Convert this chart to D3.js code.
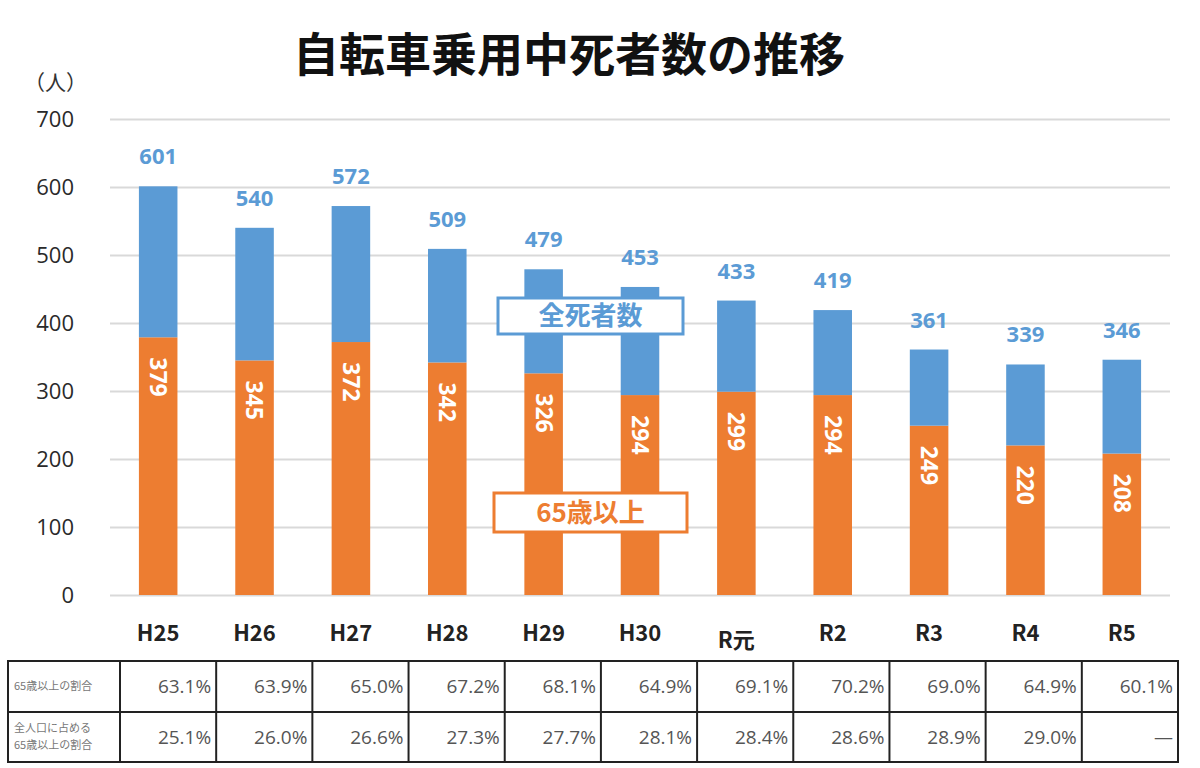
<!DOCTYPE html>
<html>
<head>
<meta charset="utf-8">
<script src="https://cdn.jsdelivr.net/npm/d3@7"></script>
<style>
  body { margin: 0; background: #fff; }
  svg { display: block; font-family: "Noto Sans CJK JP", "Open Sans", sans-serif; }
</style>
</head>
<body>
<div id="chart"></div>
<script>
// data
const years = ["H25", "H26", "H27", "H28", "H29", "H30", "R元", "R2", "R3", "R4", "R5"];
const totalDeaths = [601, 540, 572, 509, 479, 453, 433, 419, 361, 339, 346];
const elderlyDeaths = [379, 345, 372, 342, 326, 294, 299, 294, 249, 220, 208];
const elderlyShare = ["63.1%", "63.9%", "65.0%", "67.2%", "68.1%", "64.9%", "69.1%", "70.2%", "69.0%", "64.9%", "60.1%"];
const populationShare = ["25.1%", "26.0%", "26.6%", "27.3%", "27.7%", "28.1%", "28.4%", "28.6%", "28.9%", "29.0%", "—"];
const yTicks = [0, 100, 200, 300, 400, 500, 600, 700];

const BLUE = "#5b9bd5", ORANGE = "#ed7d31";
const W = 1200, H = 768;

const svg = d3.select("#chart").append("svg")
    .attr("width", W)
    .attr("height", H);

const x = d3.scaleBand().domain(years).range([110, 1170]).paddingInner(0.6).paddingOuter(0.3);
const y = d3.scaleLinear().domain([0, 700]).range([595, 119]);

// title
svg.append("text")
    .attr("x", 569).attr("y", 71)
    .attr("text-anchor", "middle")
    .attr("font-size", 46).attr("font-weight", 700)
    .attr("fill", "#111")
    .text("自転車乗用中死者数の推移");

svg.append("text")
    .attr("x", 24).attr("y", 90)
    .attr("font-size", 21).attr("fill", "#333")
    .text("（人）");

// grid + y axis
const yAxis = svg.append("g")
    .attr("transform", "translate(110,0)")
    .call(d3.axisLeft(y).tickValues(yTicks).tickSize(-1060).tickPadding(36));
yAxis.select(".domain").remove();
yAxis.selectAll(".tick line").attr("stroke", "#d9d9d9").attr("stroke-width", 2);
yAxis.selectAll(".tick text")
    .attr("font-size", 22).attr("fill", "#2a2a2a")
    .attr("font-family", "'Open Sans', sans-serif");

// stacked bars
const rows = years.map((yr, i) => ({ year: yr, elderly: elderlyDeaths[i], other: totalDeaths[i] - elderlyDeaths[i] }));
const stacked = d3.stack().keys(["elderly", "other"])(rows);
const color = d3.scaleOrdinal().domain(["elderly", "other"]).range([ORANGE, BLUE]);

svg.append("g").selectAll("g")
    .data(stacked)
    .join("g")
    .attr("fill", d => color(d.key))
    .selectAll("rect")
    .data(d => d)
    .join("rect")
    .attr("x", d => x(d.data.year))
    .attr("y", d => y(d[1]))
    .attr("width", x.bandwidth())
    .attr("height", d => y(d[0]) - y(d[1]));

// total labels
svg.append("g").selectAll("text")
    .data(years)
    .join("text")
    .attr("x", d => x(d) + x.bandwidth() / 2)
    .attr("y", (d, i) => y(totalDeaths[i]) - 22)
    .attr("text-anchor", "middle")
    .attr("font-size", 22).attr("font-weight", 700)
    .attr("font-family", "'Open Sans', sans-serif")
    .attr("fill", BLUE)
    .text((d, i) => totalDeaths[i]);

// elderly labels, rotated
svg.append("g").selectAll("text")
    .data(years)
    .join("text")
    .attr("transform", (d, i) => `translate(${x(d) + x.bandwidth() / 2},${y(elderlyDeaths[i]) + 20}) rotate(90)`)
    .attr("dy", "0.35em")
    .attr("font-size", 23).attr("font-weight", 700)
    .attr("font-family", "'Open Sans', sans-serif")
    .attr("fill", "#fff")
    .text((d, i) => elderlyDeaths[i]);

// x labels
svg.append("g").selectAll("text")
    .data(years)
    .join("text")
    .attr("x", d => x(d) + x.bandwidth() / 2)
    .attr("y", d => d === "R元" ? 648 : 641)
    .attr("text-anchor", "middle")
    .attr("font-size", 22).attr("font-weight", 600)
    .attr("fill", "#222")
    .text(d => d);

// legend boxes
const legends = [
    { label: "全死者数", color: BLUE, x0: 498, y0: 298, w: 185, h: 36 },
    { label: "65歳以上", color: ORANGE, x0: 494, y0: 493, w: 193, h: 39 }
];
const lg = svg.append("g").selectAll("g").data(legends).join("g");
lg.append("rect")
    .attr("x", d => d.x0).attr("y", d => d.y0)
    .attr("width", d => d.w).attr("height", d => d.h)
    .attr("fill", "#fff").attr("stroke", d => d.color).attr("stroke-width", 3);
lg.append("text")
    .attr("x", d => d.x0 + d.w / 2).attr("y", d => d.y0 + d.h / 2)
    .attr("dy", "0.36em")
    .attr("text-anchor", "middle")
    .attr("font-size", 26).attr("font-weight", 700)
    .attr("fill", d => d.color)
    .text(d => d.label);

// table
const tx = d3.scaleBand().domain(years).range([120, 1178]);
const tTop = 661, tMid = 712, tBot = 762;
const table = svg.append("g");
table.append("rect")
    .attr("x", 8).attr("y", tTop).attr("width", 1170).attr("height", tBot - tTop)
    .attr("fill", "none").attr("stroke", "#222").attr("stroke-width", 2);
table.append("line")
    .attr("x1", 8).attr("x2", 1178).attr("y1", tMid).attr("y2", tMid)
    .attr("stroke", "#222").attr("stroke-width", 2);
table.selectAll(".vline")
    .data(years)
    .join("line")
    .attr("class", "vline")
    .attr("x1", d => tx(d)).attr("x2", d => tx(d))
    .attr("y1", tTop).attr("y2", tBot)
    .attr("stroke", "#222").attr("stroke-width", 2);

const rowLabels = [
    { lines: ["65歳以上の割合"], cy: (tTop + tMid) / 2, values: elderlyShare },
    { lines: ["全人口に占める", "65歳以上の割合"], cy: (tMid + tBot) / 2, values: populationShare }
];
rowLabels.forEach(r => {
    const t = table.append("text")
        .attr("x", 14)
        .attr("font-size", 11).attr("fill", "#777");
    r.lines.forEach((ln, j) => {
        t.append("tspan")
            .attr("x", 14)
            .attr("y", r.cy + (j - (r.lines.length - 1) / 2) * 17)
            .attr("dy", "0.35em")
            .text(ln);
    });
    table.append("g").selectAll("text")
        .data(years)
        .join("text")
        .attr("x", d => tx(d) + tx.bandwidth() - 5)
        .attr("y", r.cy)
        .attr("dy", "0.35em")
        .attr("text-anchor", "end")
        .attr("font-size", 19)
        .attr("font-family", "'Open Sans', sans-serif")
        .attr("fill", "#555")
        .text((d, i) => r.values[i]);
});
</script>
</body>
</html>
